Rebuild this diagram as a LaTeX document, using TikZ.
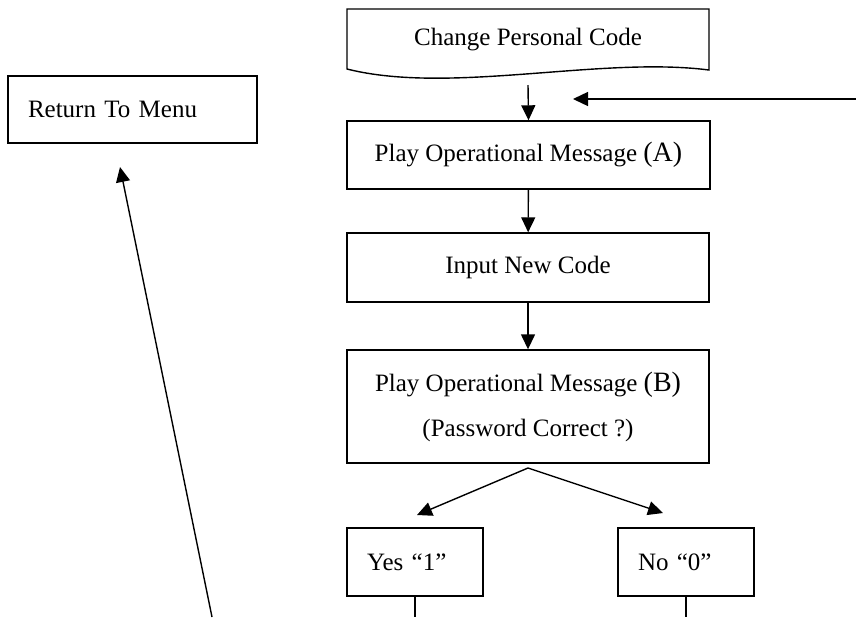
\documentclass[tikz,border=0pt]{standalone}
\usepackage{fontspec}
\setmainfont{Liberation Serif}
\usepackage{tikz}
\usetikzlibrary{arrows.meta,calc,positioning}

\tikzset{
  box/.style={draw,line width=0.7pt,inner sep=0pt,align=center,font=\fontsize{12.5}{15}\selectfont},
  leftbox/.style={box,align=left,inner xsep=10pt},
  arr/.style={line width=0.7pt,-{Triangle[length=7.5pt,width=7pt]}},
  wire/.style={line width=0.7pt}
}
\newcommand{\bigletter}[1]{{\fontsize{14}{16}\selectfont(#1)}}

\begin{document}
\begin{tikzpicture}[x=0.5pt,y=-0.5pt]
\useasboundingbox (0,0) rectangle (856,617);

% document shape on top
\node[box,draw=none,minimum width=181pt,minimum height=30.5pt] (chg) at (528,39.5) {Change Personal Code};
\draw[wire] (347,69) -- (347,9) -- (709,9) -- (709,70) .. controls (600,56) and (450,95) .. (347,69) -- cycle;

\node[leftbox,text width=104.5pt,minimum height=33.5pt] (menu) at (132.5,109.5) {Return To Menu};

\node[box,minimum width=181.5pt,minimum height=34pt] (playA) at (528.5,155) {Play Operational Message \bigletter{A}};
\node[box,minimum width=181pt,minimum height=34.5pt] (input) at (528,267.5) {Input New Code};
\node[box,minimum width=181pt,minimum height=56.5pt] (playB) at (528,406.5) {Play Operational Message \bigletter{B}\\[7.5pt](Password Correct ?)};

\node[leftbox,text width=48pt,minimum height=34pt] (yes) at (415,562) {Yes “1”};
\node[leftbox,text width=48pt,minimum height=34pt] (no) at (686,562) {No “0”};

% free ends
\coordinate (chgout) at (528,85);
\coordinate (back) at (856,99);
\coordinate (backtip) at (573,99);
\coordinate (fork) at (528,468);
\coordinate (yestip) at (417,515);
\coordinate (notip) at (663,513);
\coordinate (menuin) at (212,617);
\coordinate (menutip) at (120,167);

\draw[arr] (chgout) -- (playA.north);
\draw[arr] (back) -- (backtip);
\draw[arr] (playA) -- (input);
\draw[arr] (input) -- (playB);
\draw[arr] (fork) -- (yestip);
\draw[arr] (fork) -- (notip);
\draw[wire] (yes.south) -- (yes.south |- menuin);
\draw[wire] (no.south) -- (no.south |- menuin);
\draw[arr] (menuin) -- (menutip);

\end{tikzpicture}
\end{document}
